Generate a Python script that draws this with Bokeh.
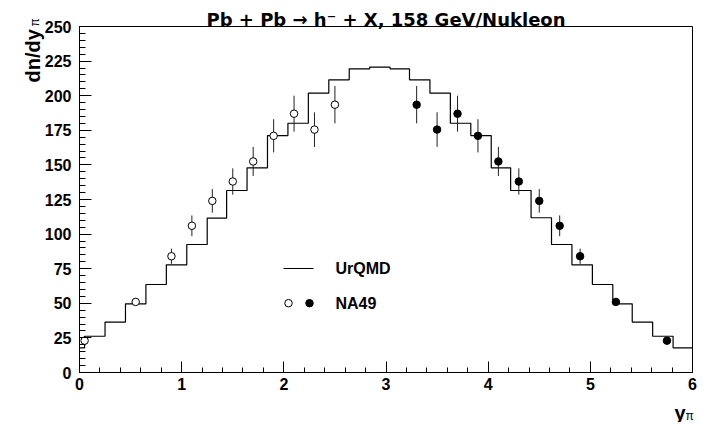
import math
from bokeh.plotting import figure
from bokeh.models import Range1d, Label, FixedTicker
from bokeh.embed import file_html
from bokeh.resources import INLINE

# ---------------- data ----------------
# UrQMD histogram: bin edges and contents
hist_edges = [0.0, 0.05, 0.25, 0.45, 0.65, 0.85, 1.05, 1.25, 1.44, 1.64, 1.84,
              2.04, 2.24, 2.44, 2.64, 2.84, 3.04, 3.23, 3.43, 3.63, 3.83, 4.03,
              4.22, 4.42, 4.62, 4.82, 5.02, 5.22, 5.41, 5.61, 5.81, 6.0]
hist_values = [17.8, 26.2, 36.4, 49.6, 63.6, 77.8, 92.5, 111.5, 131.5, 147.9,
               171.2, 180.1, 201.8, 211.5, 219.4, 220.6, 219.4, 211.5, 201.8,
               180.1, 171.2, 147.9, 131.5, 111.8, 92.5, 77.8, 63.6, 49.6, 36.4,
               26.2, 17.8]

# NA49 measured points (open = measured, filled = reflected)
na49_open_x = [0.05, 0.55, 0.90, 1.10, 1.30, 1.50, 1.70, 1.90, 2.10, 2.30, 2.50]
na49_open_y = [23.0, 51.0, 84.0, 106.0, 124.0, 138.0, 152.5, 171.0, 187.0, 175.5, 193.5]
na49_open_err = [2.0, 2.0, 5.5, 7.5, 8.5, 9.5, 10.5, 12.0, 13.0, 12.5, 13.5]

na49_full_x = [3.30, 3.50, 3.70, 3.90, 4.10, 4.30, 4.50, 4.70, 4.90, 5.25, 5.75]
na49_full_y = [193.5, 175.5, 187.0, 171.0, 152.5, 138.0, 124.0, 106.0, 84.0, 51.0, 23.0]
na49_full_err = [13.5, 12.5, 13.0, 12.0, 10.5, 9.5, 8.5, 7.5, 5.5, 2.0, 0.5]

x_major = [0, 1, 2, 3, 4, 5, 6]
y_major = [0, 25, 50, 75, 100, 125, 150, 175, 200, 225, 250]

title_text = "Pb + Pb \u2192 h\u207b + X, 158 GeV/Nukleon"
ytitle_text = "dn/dy"
xtitle_text = "y"
sub_text = "\u03c0"
legend_labels = ["UrQMD", "NA49"]

# ---------------- layout ----------------
W, H = 711, 422
FL, FR, FT, FB = 79, 692, 26, 372   # frame in canvas pixels
X0, X1, Y0, Y1 = 0.0, 6.0, 0.0, 250.0
FONT = "Liberation Sans"
TITLE_FONT = "DejaVu Sans"

def dx(px):
    return X0 + (px - FL) * (X1 - X0) / (FR - FL)

def dy(py):
    return Y0 + (FB - py) * (Y1 - Y0) / (FB - FT)

p = figure(width=W, height=H, output_backend="svg", toolbar_location=None,
           x_range=Range1d(X0, X1), y_range=Range1d(Y0, Y1),
           min_border_left=FL, min_border_right=W - FR,
           min_border_top=FT, min_border_bottom=H - FB)
p.grid.visible = False
p.outline_line_color = "black"
p.outline_line_width = 1
p.background_fill_color = "white"
p.border_fill_color = "white"

x_minor = [round(0.2 * i, 2) for i in range(31)]
y_minor = [5 * i for i in range(51)]
p.xaxis.ticker = FixedTicker(ticks=x_major, minor_ticks=x_minor)
p.yaxis.ticker = FixedTicker(ticks=y_major, minor_ticks=y_minor)

for ax in (p.xaxis[0], p.yaxis[0]):
    ax.major_tick_out = 0
    ax.minor_tick_out = 0
    ax.axis_line_color = "black"
    ax.major_tick_line_color = "black"
    ax.minor_tick_line_color = "black"
    ax.major_label_text_font = FONT
    ax.major_label_text_font_style = "bold"
    ax.major_label_text_font_size = "16px"
    ax.major_label_text_color = "black"

p.xaxis.major_tick_in = 11
p.xaxis.minor_tick_in = 5
p.yaxis.major_tick_in = 12
p.yaxis.minor_tick_in = 6
p.xaxis.major_label_standoff = 5
p.yaxis.major_label_standoff = 8

# ---------------- histogram ----------------
hx, hy = [], []
for i, v in enumerate(hist_values):
    hx += [hist_edges[i], hist_edges[i + 1]]
    hy += [v, v]
p.line(hx, hy, line_color="black", line_width=1.2)

# ---------------- data points ----------------
p.segment(x0=na49_open_x, y0=[v - e for v, e in zip(na49_open_y, na49_open_err)],
          x1=na49_open_x, y1=[v + e for v, e in zip(na49_open_y, na49_open_err)],
          line_color="#222222", line_width=1)
p.segment(x0=na49_full_x, y0=[v - e for v, e in zip(na49_full_y, na49_full_err)],
          x1=na49_full_x, y1=[v + e for v, e in zip(na49_full_y, na49_full_err)],
          line_color="#222222", line_width=1)
p.scatter(na49_open_x, na49_open_y, marker="circle", size=7.5,
          fill_color="white", line_color="black", line_width=1)
p.scatter(na49_full_x, na49_full_y, marker="circle", size=7.5,
          fill_color="black", line_color="black", line_width=1)

# ---------------- texts ----------------
def make_label(text, x, y, size, bold=True, align="left", baseline="alphabetic",
               angle=0.0, units="data", font=FONT):
    return Label(x=x, y=y, x_units=units, y_units=units, text=text, text_font=font,
                 text_font_style="bold" if bold else "normal",
                 text_font_size=f"{size}px", text_align=align,
                 text_baseline=baseline, angle=angle, text_color="black")

def side_label(side, text, px, py, size, **kw):
    # canvas units (y from the top); placed in a side panel so it is not clipped
    p.add_layout(make_label(text, px, py, size, units="canvas", **kw), side)

side_label("above", title_text, (FL + FR) / 2, 18.5, 18, align="center", font=TITLE_FONT)
side_label("left", ytitle_text, 32, 82, 20, angle=math.pi / 2)
side_label("left", sub_text, 34, 26, 12, bold=False, angle=math.pi / 2)
side_label("below", xtitle_text, 685, 412, 20, align="right")
side_label("right", sub_text, 685, 415, 12, bold=False)

# ---------------- legend ----------------
p.line([dx(283), dx(313)], [dy(268), dy(268)], line_color="black", line_width=1.2)
p.scatter([dx(288)], [dy(302.7)], marker="circle", size=7.5,
          fill_color="white", line_color="black", line_width=1)
p.scatter([dx(309)], [dy(302.7)], marker="circle", size=7.5,
          fill_color="black", line_color="black", line_width=1)
p.add_layout(make_label(legend_labels[0], dx(335), dy(268), 16, baseline="middle"))
p.add_layout(make_label(legend_labels[1], dx(335), dy(302.7), 16, baseline="middle"))

open("out.html", "w").write(file_html(p, INLINE))
